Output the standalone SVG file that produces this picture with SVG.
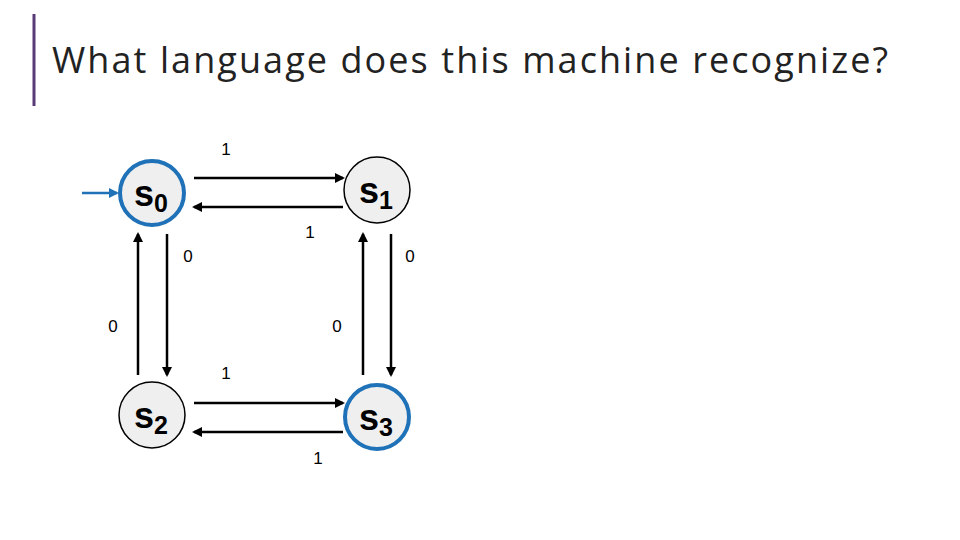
<svg xmlns="http://www.w3.org/2000/svg" width="960" height="540" viewBox="0 0 960 540">
<style>
.st{fill:#efefef;stroke:#000;stroke-width:1.5}
.acc{fill:#efefef;stroke:#1f72b8;stroke-width:4}
.nm{font-family:"Liberation Sans",Arial,sans-serif;font-weight:bold;font-size:36px;fill:#000}
.lb{font-family:"Liberation Sans",Arial,sans-serif;font-size:17px;fill:#000;text-anchor:middle}
.e{stroke:#000;stroke-width:2.5;fill:none;marker-end:url(#ah)}
</style>
<defs>
<marker id="ah" markerWidth="10" markerHeight="10" refX="8" refY="5" orient="auto" markerUnits="userSpaceOnUse"><path d="M0,0 L10,5 L0,10 z" fill="#000"/></marker>
<marker id="bh" markerWidth="10" markerHeight="10" refX="8" refY="5" orient="auto" markerUnits="userSpaceOnUse"><path d="M0,0 L10,5 L0,10 z" fill="#1f72b8"/></marker>
</defs>
<rect width="960" height="540" fill="#fff"/>
<line x1="34" y1="14" x2="34" y2="106" stroke="#5b3a78" stroke-width="3"/>
<text x="52" y="73" font-family="'Open Sans','Noto Sans',sans-serif" font-size="36" fill="#222" textLength="836" lengthAdjust="spacing">What language does this machine recognize?</text>
<g id="s0"><circle class="acc" cx="152" cy="193" r="32"/><text class="nm" x="134" y="206">s<tspan font-size="25" dy="6">0</tspan></text></g>
<g id="s1"><circle class="st" cx="377" cy="190" r="33"/><text class="nm" x="359" y="203">s<tspan font-size="25" dy="6">1</tspan></text></g>
<g id="s2"><circle class="st" cx="152" cy="415" r="33"/><text class="nm" x="134" y="428">s<tspan font-size="25" dy="6">2</tspan></text></g>
<g id="s3"><circle class="acc" cx="377" cy="417" r="32"/><text class="nm" x="359" y="430">s<tspan font-size="25" dy="6">3</tspan></text></g>
<g id="edges">
<line x1="82" y1="193" x2="117" y2="193" stroke="#1f72b8" stroke-width="2.5" marker-end="url(#bh)"/>
<line class="e" x1="194" y1="178" x2="343" y2="178"/>
<line class="e" x1="343" y1="207" x2="194" y2="207"/>
<line class="e" x1="194" y1="403" x2="343" y2="403"/>
<line class="e" x1="343" y1="432" x2="194" y2="432"/>
<line class="e" x1="138" y1="375" x2="138" y2="234"/>
<line class="e" x1="167" y1="234" x2="167" y2="375"/>
<line class="e" x1="363" y1="375" x2="363" y2="234"/>
<line class="e" x1="391" y1="234" x2="391" y2="375"/>
<text class="lb" x="226" y="155">1</text>
<text class="lb" x="310" y="238">1</text>
<text class="lb" x="188" y="262">0</text>
<text class="lb" x="410" y="262">0</text>
<text class="lb" x="113" y="332">0</text>
<text class="lb" x="337" y="332">0</text>
<text class="lb" x="226" y="379">1</text>
<text class="lb" x="318" y="464">1</text>
</g>
</svg>
